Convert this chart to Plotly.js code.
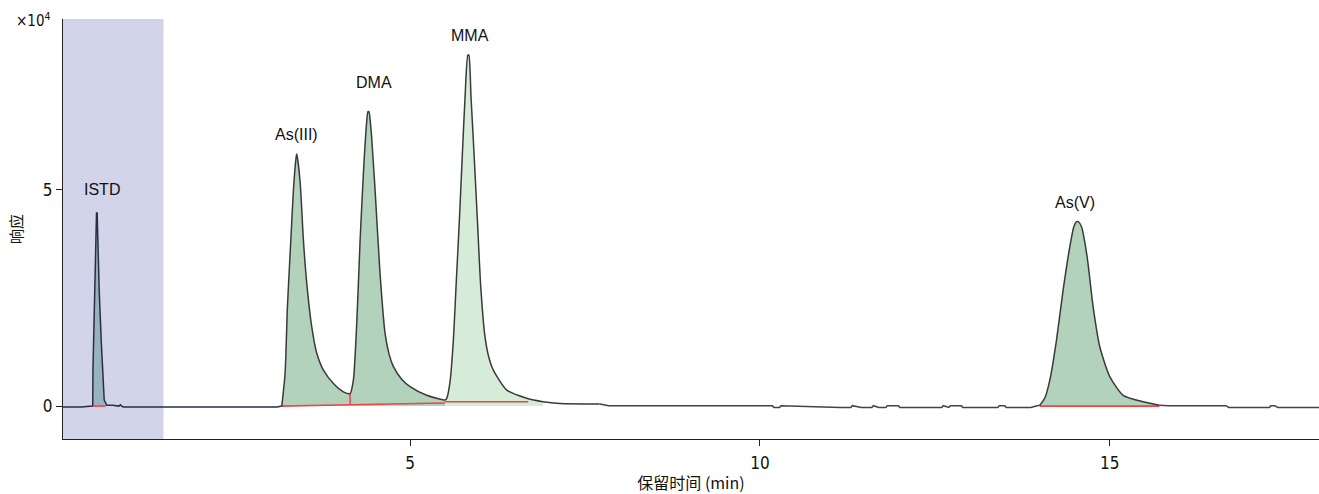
<!DOCTYPE html>
<html><head><meta charset="utf-8">
<script src="https://cdn.plot.ly/plotly-3.0.1.min.js"></script>
<style>html,body{margin:0;padding:0;background:#fff}#chart{width:1319px;height:494px}</style>
</head><body><div id="chart"></div>
<script>
// Retention time (min) and response (x10^4)
const preT = [0.04, 0.30, 0.46];
const preY = [-0.02, -0.02, 0.0];
const istdT = [0.465, 0.468, 0.490, 0.510, 0.519, 0.528, 0.539, 0.557, 0.586, 0.610, 0.629, 0.667, 0.75, 0.84, 0.86, 0.88];
const istdY = [0.02, 0.83, 2.68, 3.49, 4.46, 4.46, 3.49, 2.68, 1.52, 0.67, 0.14, 0.02, 0.02, 0.0, 0.03, 0.0];
const gapT = [0.90, 2.0, 3.10];
const gapY = [-0.02, -0.02, -0.02];
const as3T = [3.167, 3.214, 3.247, 3.296, 3.333, 3.371, 3.381, 3.429, 3.476, 3.524, 3.595, 3.667, 3.762, 3.905, 4.047, 4.143];
const as3Y = [0.0, 0.76, 2.29, 3.83, 4.99, 5.74, 5.82, 5.17, 3.83, 2.83, 1.83, 1.22, 0.83, 0.52, 0.33, 0.29];
const dmaT = [4.143, 4.19, 4.238, 4.286, 4.333, 4.371, 4.398, 4.412, 4.443, 4.500, 4.571, 4.643, 4.700, 4.762, 4.880, 5.000, 5.238, 5.500];
const dmaY = [0.29, 0.60, 1.91, 3.83, 5.37, 6.37, 6.80, 6.80, 6.37, 4.99, 3.06, 1.68, 1.20, 0.91, 0.62, 0.45, 0.25, 0.14];
const mmaT = [5.500, 5.524, 5.570, 5.619, 5.657, 5.705, 5.748, 5.786, 5.826, 5.840, 5.871, 5.914, 5.962, 6.010, 6.071, 6.130, 6.190, 6.381, 6.667, 6.900, 7.140, 7.71];
const mmaY = [0.14, 0.18, 0.55, 1.52, 2.76, 4.30, 5.84, 7.14, 8.11, 8.11, 7.14, 5.84, 4.30, 2.76, 1.60, 1.10, 0.83, 0.37, 0.18, 0.10, 0.06, 0.05];
const midT = [7.84, 10.18, 10.20, 10.28, 10.30, 11.15, 11.30, 11.32, 11.45, 11.6, 11.62, 11.7, 11.8, 11.82, 11.98, 12.0, 12.6, 12.62, 12.7, 12.72, 12.88, 12.9, 13.4, 13.42, 13.5, 13.52, 13.87, 13.95];
const midY = [0.01, 0.01, -0.03, -0.03, 0.01, -0.03, -0.03, 0.01, -0.03, -0.03, 0.01, -0.03, -0.03, 0.01, 0.01, -0.03, -0.03, 0.01, -0.03, 0.01, 0.01, -0.03, -0.03, 0.01, 0.01, -0.03, -0.03, 0.0];
const as5T = [14.00, 14.07, 14.143, 14.238, 14.333, 14.429, 14.486, 14.525, 14.550, 14.596, 14.676, 14.762, 14.857, 15.000, 15.190, 15.476, 15.710];
const as5Y = [0.02, 0.18, 0.60, 1.52, 2.68, 3.68, 4.14, 4.26, 4.26, 4.14, 3.45, 2.29, 1.37, 0.68, 0.25, 0.10, 0.02];
const postT = [15.84, 16.66, 16.70, 17.28, 17.30, 17.36, 17.40, 17.99];
const postY = [0.01, 0.01, -0.03, -0.03, 0.01, 0.01, -0.03, -0.03];

// integration baselines (red)
const istdBaseT = [0.46, 0.65];  const istdBaseY = [0.0, 0.0];
const as3BaseT = [3.16, 4.143];  const as3BaseY = [0.0, 0.03];
const dmaBaseT = [4.143, 5.50];  const dmaBaseY = [0.03, 0.07];
const mmaBaseT = [5.50, 6.69];   const mmaBaseY = [0.10, 0.10];
const as5BaseT = [14.0, 15.71];  const as5BaseY = [0.0, 0.0];
const dropT = [4.143, 4.143];    const dropY = [0.03, 0.29];

// labels
const labelText = ['ISTD', 'As(III)', 'DMA', 'MMA', 'As(V)'];
const labelT = [0.60, 3.37, 4.49, 5.86, 14.50];
const labelY = [5.00, 6.28, 7.48, 8.57, 4.71];

const istdWin = [0.04, 1.476];

const lineColor = '#3a3a3a';
function fillTrace(t, y, color) {
  return {x: t, y: y, type: 'scatter', mode: 'lines', fill: 'tozeroy', fillcolor: color,
          line: {width: 0, color: 'rgba(0,0,0,0)', shape: 'spline', smoothing: 0.6},
          hoverinfo: 'skip', showlegend: false};
}
function redTrace(t, y) {
  return {x: t, y: y, type: 'scatter', mode: 'lines', line: {color: '#e8474a', width: 1.6},
          hoverinfo: 'skip', showlegend: false};
}
function lineTrace(t, y, color, shape) {
  return {x: t, y: y, type: 'scatter', mode: 'lines',
          line: {color: color, width: 1.5, shape: shape, smoothing: 0.6},
          hoverinfo: 'skip', showlegend: false};
}
const peaksT = [].concat(as3T, dmaT.slice(1), mmaT.slice(1));
const peaksY = [].concat(as3Y, dmaY.slice(1), mmaY.slice(1));

const traces = [
  fillTrace(istdT.slice(0, 12), istdY.slice(0, 12), '#98b3bd'),
  fillTrace(as3T, as3Y, '#b2d2bc'),
  fillTrace(dmaT, dmaY, '#b2d2bc'),
  fillTrace(mmaT.slice(0, 20), mmaY.slice(0, 20), '#d6ecd8'),
  fillTrace(as5T, as5Y, '#b2d2bc'),
  redTrace(istdBaseT, istdBaseY), redTrace(as3BaseT, as3BaseY), redTrace(dmaBaseT, dmaBaseY),
  redTrace(mmaBaseT, mmaBaseY), redTrace(as5BaseT, as5BaseY), redTrace(dropT, dropY),
  lineTrace([].concat(preT, istdT, gapT, [as3T[0]]), [].concat(preY, istdY, gapY, [as3Y[0]]), '#2b2d45', 'linear'),
  lineTrace(peaksT, peaksY, lineColor, 'spline'),
  lineTrace([].concat([mmaT[mmaT.length - 1]], midT, [as5T[0]]), [].concat([mmaY[mmaY.length - 1]], midY, [as5Y[0]]), '#444', 'linear'),
  lineTrace(as5T, as5Y, lineColor, 'spline'),
  lineTrace([].concat([as5T[as5T.length - 1]], postT), [].concat([as5Y[as5Y.length - 1]], postY), '#444', 'linear')
];

const annotations = labelText.map((s, i) => ({
  x: labelT[i], y: labelY[i], xref: 'x', yref: 'y', text: s, showarrow: false,
  font: {family: 'Liberation Sans, Arial, sans-serif', size: 16, color: '#111'}
}));
annotations.push({xref: 'paper', yref: 'paper', x: 0, y: 1, xanchor: 'right', yanchor: 'bottom',
  xshift: -10, yshift: -13, text: '×10<sup>4</sup>', showarrow: false,
  font: {family: 'Liberation Sans Narrow, DejaVu Sans Condensed, Liberation Sans, sans-serif', size: 15, color: '#111'}});

const tickFont = {family: 'Liberation Sans Narrow, DejaVu Sans Condensed, Liberation Sans, sans-serif', size: 17, color: '#111'};
const layout = {
  width: 1319, height: 494,
  margin: {l: 63, r: 0, t: 19, b: 55},
  paper_bgcolor: '#fff', plot_bgcolor: '#fff',
  showlegend: false,
  xaxis: {range: [0.04, 17.99], tickvals: [5, 10, 15], ticktext: ['5', '10', '15'],
    ticks: 'outside', ticklen: 6, tickcolor: '#222', showgrid: false, zeroline: false,
    showline: true, linecolor: '#222', linewidth: 1, ticklabelstandoff: 3,
    tickfont: tickFont,
    title: {text: '保留时间 (min)', standoff: 5,
      font: {family: 'Noto Sans CJK SC, sans-serif', size: 16, color: '#111'}}},
  yaxis: {range: [-0.76, 8.94], tickvals: [0, 5], ticktext: ['0', '5'],
    ticks: 'outside', ticklen: 6, tickcolor: '#222', showgrid: false, zeroline: false,
    showline: true, linecolor: '#222', linewidth: 1,
    tickfont: tickFont,
    title: {text: '响应', standoff: 16,
      font: {family: 'Noto Sans CJK SC, sans-serif', size: 15, color: '#111'}}},
  shapes: [{type: 'rect', xref: 'x', yref: 'paper', x0: istdWin[0], x1: istdWin[1], y0: 0, y1: 1,
    fillcolor: '#d2d4ea', line: {width: 0}, layer: 'below'}],
  annotations: annotations
};
Plotly.newPlot('chart', traces, layout, {displayModeBar: false, staticPlot: true});
</script></body></html>
